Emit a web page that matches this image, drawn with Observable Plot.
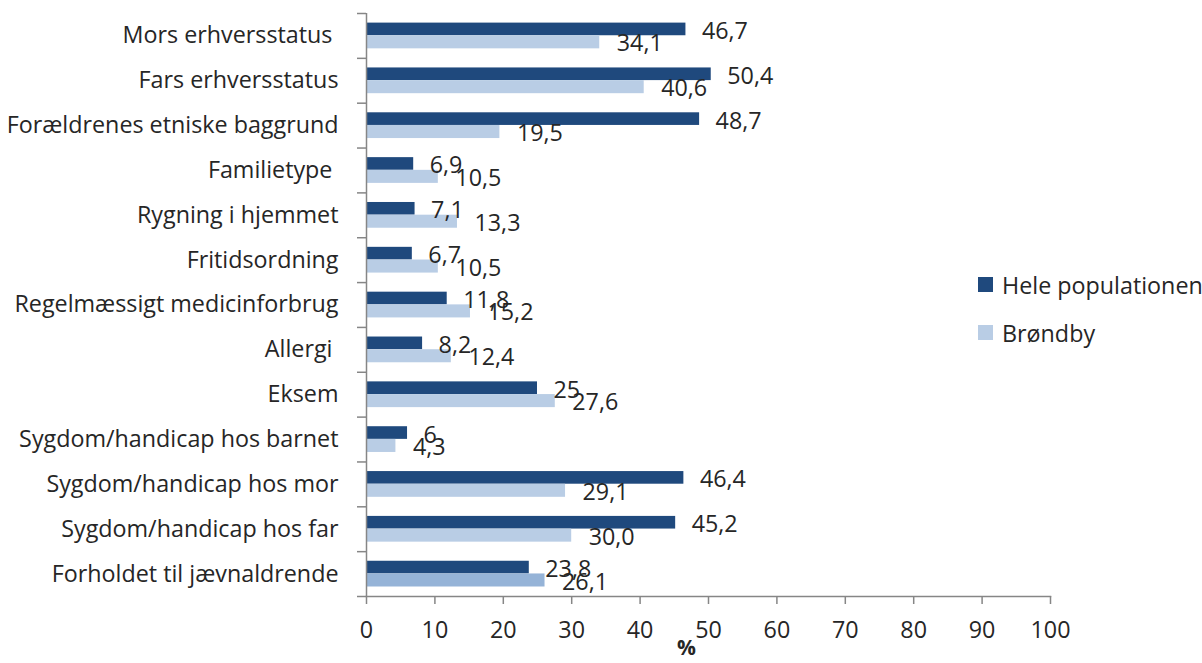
<!DOCTYPE html>
<html>
<head>
<meta charset="utf-8">
<script src="https://cdn.jsdelivr.net/npm/d3@7"></script>
<script src="https://cdn.jsdelivr.net/npm/@observablehq/plot@0.6"></script>
<style>
  html, body { margin: 0; padding: 0; background: #fff; }
  #wrap { position: relative; width: 1202px; height: 663px; font-family: "Open Sans", sans-serif; }
  #legend { position: absolute; left: 978px; top: 268px; font-size: 23.3px; color: #262626; }
  .li { display: flex; align-items: center; height: 33px; margin-bottom: 15px; white-space: nowrap; }
  .sw { width: 15px; height: 15px; margin-right: 9px; }
</style>
</head>
<body>
<div id="wrap"><div id="legend"></div></div>
<script>
const categories = [
  "Mors erhversstatus\u00a0",
  "Fars erhversstatus",
  "Forældrenes etniske baggrund",
  "Familietype\u00a0",
  "Rygning i hjemmet",
  "Fritidsordning",
  "Regelmæssigt medicinforbrug",
  "Allergi\u00a0",
  "Eksem",
  "Sygdom/handicap hos barnet",
  "Sygdom/handicap hos mor",
  "Sygdom/handicap hos far",
  "Forholdet til jævnaldrende"
];
const series = ["Hele populationen", "Brøndby"];
const hele    = [46.7, 50.4, 48.7, 6.9, 7.1, 6.7, 11.8, 8.2, 25, 6, 46.4, 45.2, 23.8];
const brondby = [34.1, 40.6, 19.5, 10.5, 13.3, 10.5, 15.2, 12.4, 27.6, 4.3, 29.1, 30.0, 26.1];
const heleLabels    = ["46,7", "50,4", "48,7", "6,9", "7,1", "6,7", "11,8", "8,2", "25", "6", "46,4", "45,2", "23,8"];
const brondbyLabels = ["34,1", "40,6", "19,5", "10,5", "13,3", "10,5", "15,2", "12,4", "27,6", "4,3", "29,1", "30,0", "26,1"];
const xTicks = [0, 10, 20, 30, 40, 50, 60, 70, 80, 90, 100];
const xLabel = "%";

const colors = {dark: "#1f497d", light: "#b9cde5", lightLast: "#95b3d7"};
const axisColor = "#868686";
const textColor = "#262626";
const fs = 23.3;

const data = categories.map((c, i) => ({
  cat: c, hele: hele[i], brondby: brondby[i],
  heleLabel: heleLabels[i], brondbyLabel: brondbyLabels[i], last: i === categories.length - 1
}));

const W = 1202, H = 663, mt = 13, mb = 67, ml = 366, mr = 152;
const step = (H - mt - mb) / categories.length;

const chart = Plot.plot({
  width: W, height: H,
  marginTop: mt, marginBottom: mb, marginLeft: ml, marginRight: mr,
  style: {fontFamily: "Open Sans, sans-serif", fontSize: fs + "px", color: textColor, background: "transparent"},
  x: {domain: [0, 100]},
  y: {domain: categories, padding: 0, round: false},
  marks: [
    Plot.barX(data, {x: "hele", y: "cat", fill: colors.dark, insetTop: 9.6, insetBottom: 22.6}),
    Plot.barX(data, {x: "brondby", y: "cat", fill: d => d.last ? colors.lightLast : colors.light, insetTop: 22.3, insetBottom: 9.5}),
    Plot.ruleX([0], {stroke: axisColor, strokeWidth: 1.5}),
    Plot.frame({anchor: "bottom", stroke: axisColor, strokeWidth: 1.5}),
    Plot.axisX({ticks: xTicks, tickSize: 8, tickPadding: 17, stroke: axisColor, strokeWidth: 1.5, fill: textColor, label: null, tickFormat: d => String(d)}),
    Plot.text([xLabel], {frameAnchor: "bottom", dx: -22, dy: 58, fontWeight: "bold", fontSize: 21, fill: textColor}),
    Plot.axisY({tickSize: 0, tickPadding: 28, label: null, fill: textColor}),
    Plot.axisY({tickSize: 9, tickFormat: () => "", dy: -step / 2, stroke: axisColor, strokeWidth: 1.5, label: null}),
    Plot.axisY([categories[categories.length - 1]], {tickSize: 9, tickFormat: () => "", dy: step / 2, stroke: axisColor, strokeWidth: 1.5, label: null}),
    Plot.text(data, {x: "hele", y: "cat", text: "heleLabel", dx: 16, dy: -4.5, textAnchor: "start", fill: textColor, fontSize: fs}),
    Plot.text(data, {x: "brondby", y: "cat", text: "brondbyLabel", dx: 17, dy: 8, textAnchor: "start", fill: textColor, fontSize: fs})
  ]
});
document.getElementById("wrap").prepend(chart);

const legend = document.getElementById("legend");
[colors.dark, colors.light].forEach((c, i) => {
  const row = document.createElement("div");
  row.className = "li";
  const sw = document.createElement("div");
  sw.className = "sw";
  sw.style.background = c;
  const t = document.createElement("span");
  t.textContent = series[i];
  row.append(sw, t);
  legend.append(row);
});
</script>
</body>
</html>
